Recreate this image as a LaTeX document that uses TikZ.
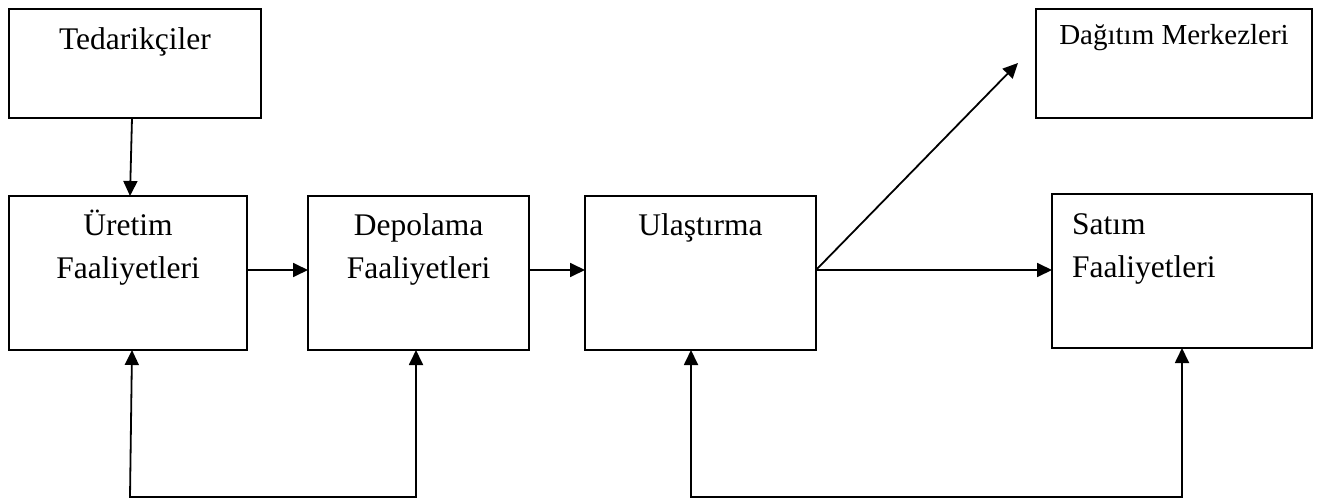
\documentclass[tikz,border=0pt]{standalone}
\usepackage{fontspec}
\setmainfont{Liberation Serif}
\usetikzlibrary{arrows.meta,calc}
\begin{document}
\begin{tikzpicture}[x=1pt,y=-1pt,
  box/.style={draw,line width=1.8pt,rectangle,inner sep=0pt,outer sep=0pt},
  lbl/.style={anchor=base,inner sep=0pt,font=\fontsize{31.5}{36}\selectfont},
  tip/.tip={Triangle[length=15pt,width=14pt]},
  arr/.style={line width=1.8pt,-tip},
  loop/.style={line width=1.8pt,tip-tip,line join=miter},
]
\useasboundingbox (0,0) rectangle (1322,503);
% boxes
\node[box,minimum width=252pt,minimum height=109pt] (ted) at (135,63.5) {};
\node[box,minimum width=238pt,minimum height=154pt] (ure) at (128,273) {};
\node[box,minimum width=221pt,minimum height=154pt] (dep) at (418.5,273) {};
\node[box,minimum width=231pt,minimum height=154pt] (ula) at (700.5,273) {};
\node[box,minimum width=260pt,minimum height=154pt] (sat) at (1182,271) {};
\node[box,minimum width=276pt,minimum height=109pt] (dag) at (1174,63.5) {};
% texts
\node[lbl] (tedt) at (135,50) {Tedarikçiler};
\node[lbl] (uret1) at (128,235) {Üretim};
\node[lbl] (uret2) at (128,278) {Faaliyetleri};
\node[lbl] (dept1) at (418.5,235) {Depolama};
\node[lbl] (dept2) at (418.5,278) {Faaliyetleri};
\node[lbl] (ulat) at (700.5,235) {Ulaştırma};
\node[lbl,anchor=base west] (satt1) at (1072,234) {Satım};
\node[lbl,anchor=base west] (satt2) at (1072,277) {Faaliyetleri};
\node[lbl,font=\fontsize{29}{34}\selectfont] (dagt) at (1174,45) {Dağıtım Merkezleri};
% coordinates
\coordinate (mid) at (0,270);
\coordinate (dagtip) at (1018,63);
\coordinate (l1) at (130,497);
\coordinate (l2) at (416,497);
\coordinate (r1) at (691,497);
\coordinate (r2) at (1182,497);
% connectors
\draw[arr] ($(ted.south)+(-3,0)$) -- ($(ure.north)+(2,0)$);
\draw[arr] (ure.east |- mid) -- (dep.west |- mid);
\draw[arr] (dep.east |- mid) -- (ula.west |- mid);
\draw[arr] (ula.east |- mid) -- (sat.west |- mid);
\draw[arr] (ula.east |- mid) -- (dagtip);
\draw[loop] ($(ure.south)+(4,0)$) -- (l1) -- (l2) -- ($(dep.south)+(-2.5,0)$);
\draw[loop] ($(ula.south)+(-9.5,0)$) -- (r1) -- (r2) -- (sat.south);
\end{tikzpicture}
\end{document}
